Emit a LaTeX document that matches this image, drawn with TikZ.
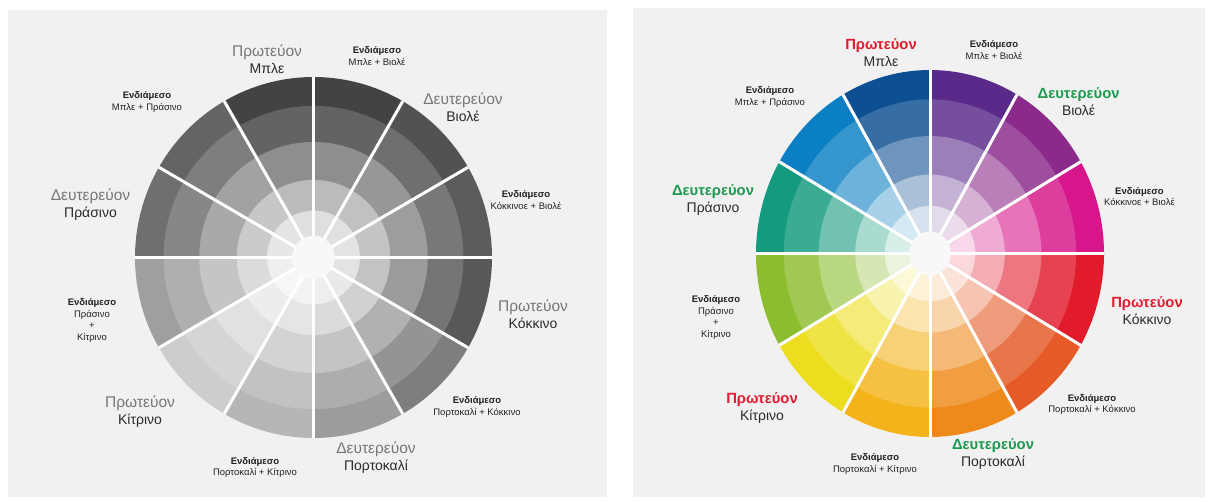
\documentclass[tikz,border=0pt]{standalone}
\usepackage{fontspec}
\setmainfont{Liberation Sans}
\definecolor{cBlue}{HTML}{0D4F93}
\definecolor{cBV}{HTML}{5A2A8A}
\definecolor{cViolet}{HTML}{8B2A8B}
\definecolor{cRV}{HTML}{D6168A}
\definecolor{cRed}{HTML}{E11B2B}
\definecolor{cOR}{HTML}{E55A26}
\definecolor{cOrange}{HTML}{EE8A1C}
\definecolor{cOY}{HTML}{F4B31B}
\definecolor{cYellow}{HTML}{ECDD1F}
\definecolor{cGY}{HTML}{8CBD2F}
\definecolor{cGreen}{HTML}{149A7E}
\definecolor{cBG}{HTML}{0B7FC3}
\definecolor{panelbg}{HTML}{F1F1F1}
\definecolor{kindgray}{HTML}{767676}
\definecolor{kindred}{HTML}{E31B2F}
\definecolor{kindgreen}{HTML}{1E9A50}
\definecolor{namec}{HTML}{2A2A2A}
\definecolor{smallc}{HTML}{222222}
\definecolor{hubc}{HTML}{F8F8F8}
\newcommand\kg[1]{{\fontsize{15.5}{17}\selectfont\textcolor{kindgray}{#1}}}
\newcommand\kr[1]{{\fontsize{14.8}{17}\selectfont\textcolor{kindred}{\bfseries #1}}}
\newcommand\kgr[1]{{\fontsize{14.8}{17}\selectfont\textcolor{kindgreen}{\bfseries #1}}}
\newcommand\midlbl[1]{{\bfseries Ενδιάμεσο}\\#1}
% #1 cx, #2 cy, #3 rx, #4 ry, #5 colour model
\newcommand\drawwheel[5]{%
  \begin{scope}[shift={(#1,#2)}, xscale=#3/#4]
    \foreach \segang/\segcol in {90/cBlue,60/cBV,30/cViolet,0/cRV,-30/cRed,-60/cOR,-90/cOrange,-120/cOY,-150/cYellow,180/cGY,150/cGreen,120/cBG}{
      \foreach \rr/\pp in {1/100,0.84/83,0.64/60,0.43/36,0.26/17}{
        \colorlet{segc}[#5]{\segcol!\pp!white}
        \fill[segc] (0,0) -- (\segang:{\rr*#4}) arc[start angle=\segang, end angle=\segang+30, radius={\rr*#4}] -- cycle;
      }
    }
    \foreach \a in {0,30,...,330}{\draw[sepline] (0,0) -- (\a:#4);}
    \fill[hubc] (0,0) circle[radius={0.12*#4}];
  \end{scope}}
\tikzset{
  sepline/.style={white, line width=3pt},
  biglbl/.style={align=center, font=\fontsize{14}{17}\selectfont, text=namec, inner sep=0pt},
  smalllbl/.style={align=center, font=\fontsize{9.5}{11.5}\selectfont, text=smallc, inner sep=0pt},
}
\begin{document}
\begin{tikzpicture}[x=1pt,y=1pt]
\useasboundingbox (0,0) rectangle (1210,-502);
\fill[white] (0,0) rectangle (1210,-502);
\fill[panelbg] (8,-10) rectangle (607,-497);
\fill[panelbg] (633,-8) rectangle (1205,-497);
\drawwheel{313.5}{-257.5}{178.5}{180.5}{gray}
\drawwheel{930}{-253.5}{174}{183.5}{rgb}
% left panel labels
\node[biglbl] (gPM) at (267,-59.5) {\kg{Πρωτεύον}\\Μπλε};
\node[biglbl] (gDB) at (463,-107) {\kg{Δευτερεύον}\\Βιολέ};
\node[biglbl] (gPK) at (533,-314) {\kg{Πρωτεύον}\\Κόκκινο};
\node[biglbl] (gDP) at (376,-457.5) {\kg{Δευτερεύον}\\Πορτοκαλί};
\node[biglbl] (gPKit) at (140,-411.5) {\kg{Πρωτεύον}\\Κίτρινο};
\node[biglbl] (gDPr) at (90.5,-204.5) {\kg{Δευτερεύον}\\Πράσινο};
\node[smalllbl] (gEMB) at (377,-56) {\midlbl{Μπλε + Βιολέ}};
\node[smalllbl] (gEKB) at (526,-200) {\midlbl{Κόκκινοε + Βιολέ}};
\node[smalllbl] (gEPK) at (477,-407) {\midlbl{Πορτοκαλί + Κόκκινο}};
\node[smalllbl] (gEPKit) at (255,-467.5) {\midlbl{Πορτοκαλί + Κίτρινο}};
\node[smalllbl] (gEPrK) at (92,-320.5) {\midlbl{Πράσινο\\+\\Κίτρινο}};
\node[smalllbl] (gEMPr) at (147,-102) {\midlbl{Μπλε + Πράσινο}};
% right panel labels
\node[biglbl] (cPM) at (881,-53) {\kr{Πρωτεύον}\\Μπλε};
\node[biglbl] (cDB) at (1078.6,-102) {\kgr{Δευτερεύον}\\Βιολέ};
\node[biglbl] (cPK) at (1147,-311) {\kr{Πρωτεύον}\\Κόκκινο};
\node[biglbl] (cDP) at (993,-454) {\kgr{Δευτερεύον}\\Πορτοκαλί};
\node[biglbl] (cPKit) at (762,-408.5) {\kr{Πρωτεύον}\\Κίτρινο};
\node[biglbl] (cDPr) at (713,-200) {\kgr{Δευτερεύον}\\Πράσινο};
\node[smalllbl] (cEMB) at (994,-50) {\midlbl{Μπλε + Βιολέ}};
\node[smalllbl] (cEKB) at (1139.4,-196.5) {\midlbl{Κόκκινοε + Βιολέ}};
\node[smalllbl] (cEPK) at (1092,-404.5) {\midlbl{Πορτοκαλί + Κόκκινο}};
\node[smalllbl] (cEPKit) at (875,-464) {\midlbl{Πορτοκαλί + Κίτρινο}};
\node[smalllbl] (cEPrK) at (716,-317.5) {\midlbl{Πράσινο\\+\\Κίτρινο}};
\node[smalllbl] (cEMPr) at (770,-97) {\midlbl{Μπλε + Πράσινο}};
\end{tikzpicture}
\end{document}
